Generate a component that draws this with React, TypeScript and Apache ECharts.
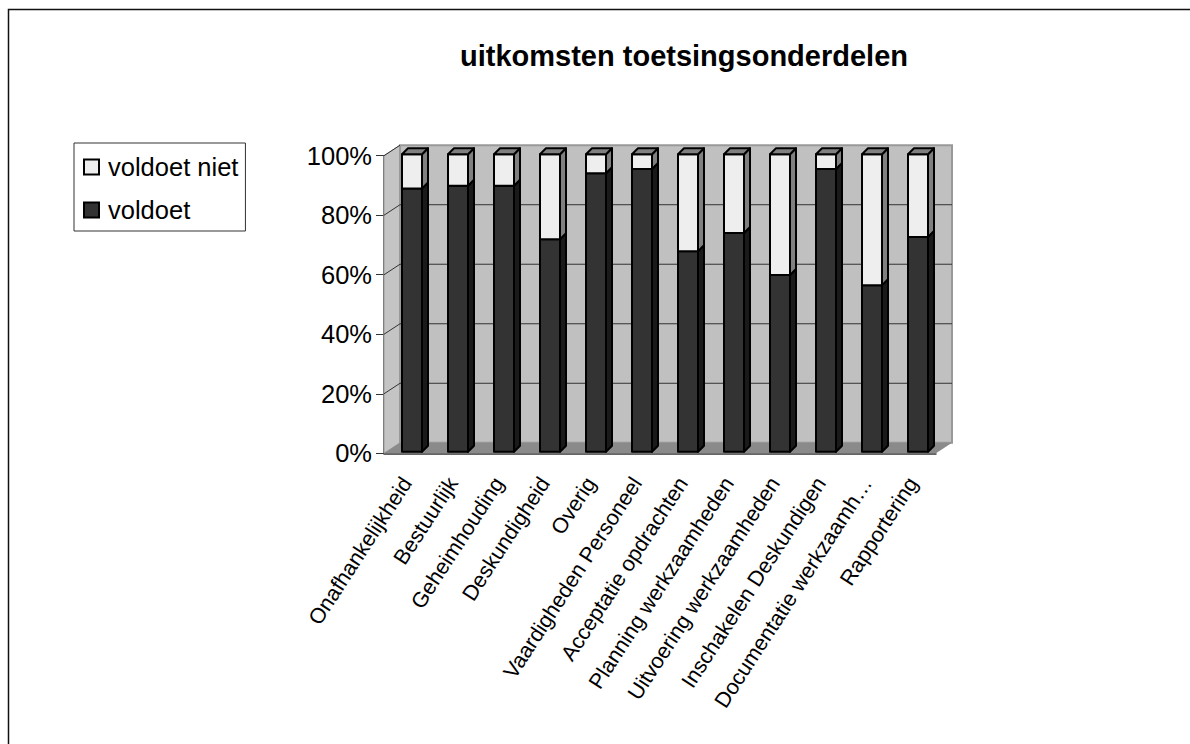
import React, { useEffect, useRef } from "react";
import * as echarts from "echarts";

const categories = [
  "Onafhankelijkheid", "Bestuurlijk", "Geheimhouding", "Deskundigheid", "Overig",
  "Vaardigheden Personeel", "Acceptatie opdrachten", "Planning werkzaamheden",
  "Uitvoering werkzaamheden", "Inschakelen Deskundigen", "Documentatie werkzaamh…", "Rapportering",
];
const voldoet = [88.5, 89.4, 89.4, 71.4, 93.6, 95, 67.4, 73.5, 59.4, 95, 56, 72.2];
const voldoetNiet = [11.5, 10.6, 10.6, 28.6, 6.4, 5, 32.6, 26.5, 40.6, 5, 44, 27.8];
const gridTicks = [20, 40, 60, 80];
const FONT = "'Liberation Sans', Arial, sans-serif";

const WALL_DX = 16, WALL_DY = -10.5;
const BAR_DX = 18, BAR_W = 20, BAR_SHIFT_Y = -1.5, DEPTH_X = 6, DEPTH_Y = -6;

function segment(params: any, api: any, front: string, side: string, top: string) {
  const i = api.value(0);
  const band = api.size([1, 0])[0];
  const x0 = api.coord([i, 0])[0] - band / 2 + BAR_DX;
  const y0 = api.coord([i, api.value(1)])[1] + BAR_SHIFT_Y;
  const y1 = api.coord([i, api.value(2)])[1] + BAR_SHIFT_Y;
  const x1 = x0 + BAR_W;
  const line = { stroke: "#000", lineWidth: 2, lineJoin: "round" };
  const children: any[] = [
    { type: "polygon", shape: { points: [[x1, y1], [x1 + DEPTH_X, y1 + DEPTH_Y], [x1 + DEPTH_X, y0 + DEPTH_Y], [x1, y0]] }, style: { fill: side, ...line } },
    { type: "rect", shape: { x: x0, y: y1, width: BAR_W, height: y0 - y1 }, style: { fill: front, ...line } },
  ];
  if (api.value(2) >= 100) {
    children.push({ type: "polygon", shape: { points: [[x0, y1], [x0 + DEPTH_X, y1 + DEPTH_Y], [x1 + DEPTH_X, y1 + DEPTH_Y], [x1, y1]] }, style: { fill: top, ...line } });
  }
  return { type: "group", children };
}

export default function App() {
  const ref = useRef<HTMLDivElement>(null);
  useEffect(() => {
    document.body.style.margin = "0";
    document.body.style.overflow = "hidden";
    const chart = echarts.init(ref.current!, undefined, { renderer: "svg" });
    chart.setOption({
      animation: false,
      backgroundColor: "#fff",
      title: {
        text: "uitkomsten toetsingsonderdelen",
        left: 679, top: 36.5, textAlign: "center",
        textStyle: { fontFamily: FONT, fontSize: 29, fontWeight: "bold", color: "#000" },
      },
      legend: {
        orient: "vertical", left: 74, top: 143,
        data: ["voldoet niet", "voldoet"],
        backgroundColor: "#fff", borderColor: "#333", borderWidth: 1,
        padding: [10, 7, 7, 9], itemGap: 15, itemWidth: 15, itemHeight: 15, icon: "rect",
        textStyle: { fontFamily: FONT, fontSize: 25.5, lineHeight: 28, color: "#000", padding: [0, 0, 0, 4] },
        selectedMode: false,
      },
      grid: { left: 384, top: 155.7, width: 552, height: 297.6 },
      xAxis: {
        type: "category", data: categories,
        axisLine: { lineStyle: { color: "#333", width: 1.5 } },
        axisTick: { alignWithLabel: false, length: 8, lineStyle: { color: "#333" } },
        axisLabel: { interval: 0, rotate: 57, margin: 26, fontFamily: FONT, fontSize: 21.5, color: "#000" },
      },
      yAxis: {
        type: "value", min: 0, max: 100, interval: 20,
        axisLine: { show: true, lineStyle: { color: "#333", width: 1.5 } },
        axisTick: { show: true, length: 8, lineStyle: { color: "#333" } },
        axisLabel: { formatter: "{value}%", margin: 12, fontFamily: FONT, fontSize: 25.5, color: "#000" },
        splitLine: { show: false },
      },
      series: [
        {
          type: "custom", name: "walls", silent: true, z: 1, legendHoverLink: false,
          data: [[0]],
          renderItem: (params: any, api: any) => {
            const cs = params.coordSys;
            const L = cs.x, R = cs.x + cs.width, T = cs.y, B = cs.y + cs.height;
            const children: any[] = [
              { type: "polygon", shape: { points: [[L, B], [L + WALL_DX, B + WALL_DY], [L + WALL_DX, T + WALL_DY], [L, T]] }, style: { fill: "#c4c4c4", stroke: "#999", lineWidth: 1 } },
              { type: "rect", shape: { x: L + WALL_DX, y: T + WALL_DY, width: R - L, height: B - T }, style: { fill: "#c0c0c0", stroke: "#999", lineWidth: 2 } },
              { type: "polygon", shape: { points: [[L, B], [R, B], [R + WALL_DX, B + WALL_DY], [L + WALL_DX, B + WALL_DY]] }, style: { fill: "#8a8a8a" } },
            ];
            gridTicks.forEach((t) => {
              const y = api.coord([0, t])[1];
              children.push({ type: "polyline", shape: { points: [[L, y], [L + WALL_DX, y + WALL_DY], [R + WALL_DX, y + WALL_DY]] }, style: { fill: "none", stroke: "#333", lineWidth: 1 } });
            });
            children.push({ type: "line", shape: { x1: L, y1: T, x2: L + WALL_DX, y2: T + WALL_DY }, style: { stroke: "#333", lineWidth: 1 } });
            return { type: "group", children };
          },
        },
        {
          type: "custom", name: "voldoet", z: 2,
          itemStyle: { color: "#333333", borderColor: "#000", borderWidth: 1.5 },
          encode: { x: 0, y: 2 },
          data: voldoet.map((v, i) => [i, 0, v]),
          renderItem: (p: any, api: any) => segment(p, api, "#333333", "#1a1a1a", "#666666"),
        },
        {
          type: "custom", name: "voldoet niet", z: 3,
          itemStyle: { color: "#eeeeee", borderColor: "#000", borderWidth: 1.5 },
          encode: { x: 0, y: 2 },
          data: voldoetNiet.map((v, i) => [i, 100 - v, 100]),
          renderItem: (p: any, api: any) => segment(p, api, "#eeeeee", "#808080", "#808080"),
        },
      ],
      graphic: [
        { type: "polyline", shape: { points: [[8.5, 744], [8.5, 9.5], [1190, 9.5]] }, style: { fill: "none", stroke: "#111", lineWidth: 1.5 } },
      ],
    });
    return () => chart.dispose();
  }, []);
  return <div ref={ref} style={{ width: 1190, height: 744, position: "absolute", left: 0, top: 0 }} />;
}
